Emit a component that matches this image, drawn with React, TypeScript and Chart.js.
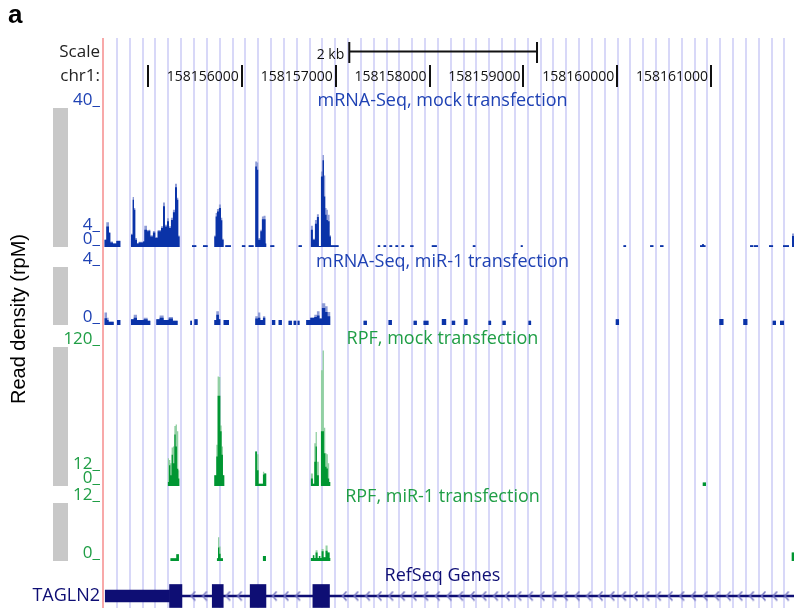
import { useEffect, useRef } from "react";
import { Chart, registerables } from "chart.js";

Chart.register(...registerables);

// ---- genomic window -------------------------------------------------------
const chromName = "chr1:";
const viewStart = 158154521;
const viewEnd = 158161883;
const rulerTicks = [158155000, 158156000, 158157000, 158158000, 158159000, 158160000, 158161000];
const rulerLabels = ["", "158156000", "158157000", "158158000", "158159000", "158160000", "158161000"];
const scaleBarRange = [158157145, 158159145];
const scaleBarText = "2 kb";
const guideStart = 158154670;
const guideStep = 136.75;

// ---- coverage tracks: [start, mean, max]; each value holds until the next start ----
const mrnaMock = [
  [158154535, 2.1, 2.1], [158154556, 5.9, 7.1], [158154585, 4.0, 4.3], [158154599, 1.3, 1.6],
  [158154627, 1.0, 1.0], [158154663, 1.7, 1.9], [158154706, 0, 0],
  [158154819, 3.5, 3.8], [158154837, 13.6, 14.4], [158154851, 10.7, 11.2], [158154865, 2.1, 2.6],
  [158154883, 1.0, 1.0], [158154901, 1.3, 1.5], [158154947, 1.6, 1.6], [158154961, 5.0, 6.1],
  [158154990, 4.5, 4.9], [158155007, 4.7, 5.0], [158155025, 3.0, 3.4], [158155053, 4.2, 4.6],
  [158155078, 2.6, 2.9], [158155103, 4.5, 4.9], [158155139, 5.5, 6.0], [158155160, 11.7, 12.8],
  [158155181, 5.9, 6.4], [158155203, 7.4, 8.3], [158155224, 5.5, 6.0], [158155245, 7.8, 8.4],
  [158155266, 10.0, 10.7], [158155288, 17.2, 18.2], [158155309, 13.6, 14.2], [158155323, 3.0, 3.3],
  [158155337, 0, 0],
  [158155469, 0.5, 0.5], [158155515, 0, 0], [158155586, 0.5, 0.5], [158155636, 0, 0],
  [158155707, 3.0, 3.3], [158155721, 8.8, 9.8], [158155735, 10.2, 10.9], [158155756, 11.2, 12.2],
  [158155778, 7.7, 8.4], [158155792, 2.1, 2.4], [158155806, 0, 0],
  [158155824, 0.5, 0.5], [158155884, 0, 0], [158156001, 0.5, 0.5], [158156037, 0, 0],
  [158156073, 0.5, 0.5], [158156126, 0, 0],
  [158156143, 23.2, 24.6], [158156161, 22.2, 24.3], [158156175, 2.1, 2.6], [158156197, 4.5, 5.0],
  [158156214, 8.0, 8.8], [158156232, 8.0, 9.0], [158156253, 1.0, 1.0], [158156260, 0, 0],
  [158156303, 0.5, 0.5], [158156346, 0, 0], [158156605, 0.5, 0.5], [158156640, 0, 0],
  [158156736, 5.0, 6.1], [158156757, 2.1, 2.4], [158156779, 6.7, 7.8], [158156800, 8.6, 9.4],
  [158156821, 0.3, 0.3], [158156843, 20.3, 21.7], [158156860, 25.0, 26.5], [158156875, 14.5, 20.6],
  [158156889, 9.3, 11.2], [158156903, 7.8, 10.7], [158156917, 7.4, 9.3], [158156935, 3.0, 3.4],
  [158156949, 0.5, 0.5], [158157031, 0, 0],
  [158157449, 0.5, 0.5], [158157474, 0, 0], [158157510, 0.5, 0.5], [158157538, 0, 0],
  [158157573, 0.5, 0.5], [158157602, 0, 0], [158157637, 0.5, 0.5], [158157666, 0, 0],
  [158157701, 0.5, 0.5], [158157730, 0, 0], [158157794, 0.5, 0.5], [158157829, 0, 0],
  [158158024, 0.5, 0.5], [158158078, 0, 0], [158158461, 0.5, 0.5], [158158489, 0, 0],
  [158158972, 0.5, 0.5], [158158993, 0, 0], [158160066, 0.5, 0.5], [158160094, 0, 0],
  [158160350, 0.5, 0.5], [158160385, 0, 0], [158160456, 0.5, 0.5], [158160492, 0, 0],
  [158160882, 0.5, 0.5], [158160903, 0.8, 0.8], [158160924, 0.5, 0.5], [158160940, 0, 0],
  [158161415, 0.5, 0.5], [158161450, 0, 0], [158161457, 0.5, 0.5], [158161500, 0, 0],
  [158161617, 0.5, 0.5], [158161660, 0, 0], [158161766, 0.5, 0.5], [158161830, 0, 0],
  [158161862, 3.2, 3.9], [158161883, 0, 0],
];

const mrnaMiR1 = [
  [158154535, 0.47, 0.87], [158154564, 0.35, 0.5], [158154581, 0.23, 0.23], [158154635, 0, 0],
  [158154670, 0.35, 0.35], [158154706, 0, 0],
  [158154819, 0.4, 0.4], [158154848, 0.5, 0.7], [158154883, 0.35, 0.35], [158154954, 0.4, 0.5],
  [158154997, 0.3, 0.3], [158155025, 0, 0],
  [158155089, 0.4, 0.4], [158155124, 0.5, 0.65], [158155167, 0.35, 0.35], [158155220, 0.45, 0.55],
  [158155266, 0.3, 0.3], [158155316, 0, 0],
  [158155451, 0.3, 0.3], [158155469, 0, 0], [158155494, 0.4, 0.4], [158155529, 0, 0],
  [158155707, 0.35, 0.35], [158155728, 0.7, 0.94], [158155756, 0.4, 0.4], [158155771, 0, 0],
  [158155806, 0.35, 0.35], [158155863, 0, 0],
  [158156143, 0.45, 0.6], [158156172, 0.5, 0.87], [158156197, 0.35, 0.35], [158156225, 0.5, 0.6],
  [158156250, 0, 0],
  [158156321, 0.35, 0.35], [158156356, 0, 0], [158156392, 0.35, 0.35], [158156427, 0, 0],
  [158156498, 0.3, 0.3], [158156534, 0, 0], [158156552, 0.3, 0.3], [158156580, 0, 0],
  [158156594, 0.3, 0.3], [158156615, 0, 0],
  [158156686, 0.35, 0.35], [158156729, 0.5, 0.5], [158156772, 0.55, 0.7], [158156800, 0.65, 0.94],
  [158156828, 0.45, 0.45], [158156853, 1.17, 1.5], [158156889, 0.9, 1.3], [158156914, 0.6, 0.9],
  [158156942, 0, 0],
  [158157297, 0.3, 0.3], [158157333, 0, 0], [158157563, 0.35, 0.35], [158157599, 0, 0],
  [158157830, 0.3, 0.3], [158157865, 0, 0], [158157936, 0.3, 0.3], [158157989, 0, 0],
  [158158131, 0.42, 0.42], [158158177, 0, 0], [158158237, 0.3, 0.3], [158158273, 0, 0],
  [158158369, 0.4, 0.4], [158158404, 0, 0], [158158628, 0.3, 0.3], [158158656, 0, 0],
  [158158777, 0.3, 0.3], [158158812, 0, 0], [158159054, 0.3, 0.3], [158159082, 0, 0],
  [158159984, 0.4, 0.4], [158160019, 0, 0], [158161088, 0.42, 0.42], [158161131, 0, 0],
  [158161343, 0.42, 0.42], [158161386, 0, 0], [158161656, 0.3, 0.3], [158161691, 0, 0],
  [158161734, 0.3, 0.3], [158161777, 0, 0],
];

const rpfMock = [
  [158155210, 3.5, 24], [158155224, 18, 22.5], [158155238, 9.3, 19.6], [158155252, 26.9, 33.3],
  [158155266, 19.6, 34], [158155281, 44.4, 51.7], [158155295, 34, 53], [158155309, 15, 47.3],
  [158155323, 6.4, 13.7], [158155334, 0, 0],
  [158155707, 9.3, 9.3], [158155728, 25.4, 35.6], [158155742, 78, 94.6], [158155756, 78, 94],
  [158155771, 47.3, 52.3], [158155785, 26.9, 34], [158155799, 9.3, 9.3], [158155813, 0, 0],
  [158156143, 29.8, 29.8], [158156161, 13.7, 27.4], [158156179, 2, 2], [158156225, 9.9, 12.3],
  [158156239, 10.8, 10.8], [158156260, 0, 0],
  [158156736, 6.4, 10.8], [158156757, 2, 2], [158156772, 21, 37], [158156786, 34, 46.7],
  [158156800, 9.3, 21], [158156821, 0, 0],
  [158156843, 47.3, 100], [158156860, 47.3, 117], [158156875, 28.3, 50.2], [158156889, 16.6, 28.3],
  [158156903, 15.2, 27.4], [158156917, 6.4, 19.6], [158156931, 3.5, 3.5], [158156942, 0, 0],
  [158160911, 3, 3], [158160946, 0, 0],
];

const rpfMiR1 = [
  [158155238, 0.56, 0.56], [158155302, 1.4, 1.4], [158155330, 0, 0],
  [158155735, 0.56, 0.56], [158155746, 2.8, 4.9], [158155760, 1.5, 3.0], [158155774, 0.56, 0.56],
  [158155799, 0, 0],
  [158156225, 1.05, 1.05], [158156257, 0, 0],
  [158156736, 0.6, 0.6], [158156757, 1.2, 1.2], [158156772, 0.6, 0.6], [158156786, 1.75, 2.25],
  [158156807, 0.6, 0.6], [158156821, 1.05, 1.05], [158156836, 0.6, 0.6], [158156850, 2.0, 2.5],
  [158156871, 0.8, 0.8], [158156892, 2.1, 3.2], [158156914, 1.75, 1.75], [158156935, 0.6, 0.6],
  [158156942, 0, 0],
  [158161859, 1.75, 1.75], [158161883, 0, 0],
];

// ---- RefSeq gene model -------------------------------------------------------
const geneName = "TAGLN2";
const geneUtr = [158154545, 158155230];
const geneExons = [
  [158155230, 158155362],
  [158155685, 158155802],
  [158156089, 158156257],
  [158156757, 158156934],
];
const geneIntron = [158155362, 158161883];
const chevronStep = 124;

const chevronPositions: number[] = [];
for (let p = geneIntron[0] + 120; p < geneIntron[1] - 40; p += chevronStep) {
  if (!geneExons.some(([a, b]) => p > a - 45 && p < b + 45)) chevronPositions.push(p);
}

// ---- colours ----------------------------------------------------------------
const BLUE_TEXT = "#1f42b4";
const BLUE_DARK = "#0a33a8";
const BLUE_LIGHT = "#8e9cd6";
const GREEN_TEXT = "#1f9e45";
const GREEN_DARK = "#009632";
const GREEN_LIGHT = "#92d0a3";
const NAVY = "#0e0e74";
const GUIDE = "#d8d8f8";
const EDGE = "#f8a9a9";

const tracks = [
  { id: "t1", title: "mRNA-Seq, mock transfection", titleShift: -7, bins: mrnaMock, max: 40, ticks: [0, 4, 40], text: BLUE_TEXT, dark: BLUE_DARK, light: BLUE_LIGHT },
  { id: "t2", title: "mRNA-Seq, miR-1 transfection", titleShift: -5, bins: mrnaMiR1, max: 4, ticks: [0, 4], text: BLUE_TEXT, dark: BLUE_DARK, light: BLUE_LIGHT },
  { id: "t3", title: "RPF, mock transfection", titleShift: -8, bins: rpfMock, max: 120, ticks: [0, 12, 120], text: GREEN_TEXT, dark: GREEN_DARK, light: GREEN_LIGHT },
  { id: "t4", title: "RPF, miR-1 transfection", titleShift: -6, bins: rpfMiR1, max: 12, ticks: [0, 12], text: GREEN_TEXT, dark: GREEN_DARK, light: GREEN_LIGHT },
];

// vertical layout of the browser image (stack weights in pixels)
const rowHeights = { head: 55, g0: 15, t1: 139, g1: 20, t2: 58, g2: 22, t3: 139, g3: 17, t4: 58, g4: 23, genes: 24 };
const rowOrder = ["head", "g0", "t1", "g1", "t2", "g2", "t3", "g3", "t4", "g4", "genes"];

const AXIS_W = 100;
const FONT = '"Open Sans", sans-serif';

const fixAxis = (s: any) => {
  s.width = AXIS_W;
  s.paddingTop = 0;
  s.paddingBottom = 0;
};

function stackPart(id: string) {
  return {
    position: "left",
    stack: "browser",
    stackWeight: (rowHeights as any)[id],
    weight: rowOrder.length - rowOrder.indexOf(id),
    offset: false,
    afterFit: fixAxis,
  };
}

function spacer(id: string) {
  return {
    type: "linear",
    ...stackPart(id),
    ticks: { display: false },
    grid: { display: false, drawTicks: false },
    border: { display: false },
  };
}

const browserDecor = {
  id: "browserDecor",
  afterDatasetsDraw(chart: any) {
    const { ctx, chartArea, scales } = chart;
    const xs = scales.x;
    const top = chartArea.top;
    const labelRight = chartArea.left - 3;
    const titleX = (chartArea.left + chartArea.right) / 2 - 6;
    ctx.save();

    // side bars of each data track
    ctx.fillStyle = "#c8c8c8";
    tracks.forEach((t) => {
      const s = scales[t.id];
      ctx.fillRect(53, s.top, 15, s.bottom - s.top);
    });

    // track titles
    ctx.textAlign = "center";
    ctx.textBaseline = "middle";
    ctx.font = `18px ${FONT}`;
    tracks.forEach((t) => {
      ctx.fillStyle = t.text;
      ctx.fillText(t.title, titleX, scales[t.id].top + t.titleShift);
    });
    ctx.fillStyle = NAVY;
    ctx.fillText("RefSeq Genes", titleX, scales.genes.top - 8);

    // ruler header
    ctx.fillStyle = "#222";
    ctx.textAlign = "right";
    ctx.font = `17px ${FONT}`;
    ctx.fillText("Scale", labelRight, top + 14);
    ctx.fillText(chromName, labelRight, top + 38);

    const b0 = xs.getPixelForValue(scaleBarRange[0]);
    const b1 = xs.getPixelForValue(scaleBarRange[1]);
    ctx.fillStyle = "#111";
    ctx.fillRect(b0, top + 12.5, b1 - b0, 2);
    ctx.fillRect(b0 - 1, top + 4, 2, 21);
    ctx.fillRect(b1 - 1, top + 4, 2, 21);
    ctx.font = `14px ${FONT}`;
    ctx.fillText(scaleBarText, b0 - 5, top + 17);

    rulerTicks.forEach((v, i) => {
      const px = xs.getPixelForValue(v);
      ctx.fillRect(Math.round(px) - 1, top + 27, 2, 22);
      if (rulerLabels[i]) ctx.fillText(rulerLabels[i], px - 3, top + 39);
    });

    // axis title and panel letter
    ctx.fillStyle = "#000";
    ctx.save();
    ctx.translate(25, 319);
    ctx.rotate(-Math.PI / 2);
    ctx.textAlign = "center";
    ctx.textBaseline = "alphabetic";
    ctx.font = '20px "Liberation Sans", Arial, sans-serif';
    ctx.fillText("Read density (rpM)", 0, 0);
    ctx.restore();

    ctx.textAlign = "left";
    ctx.textBaseline = "alphabetic";
    ctx.font = 'bold 26px "Liberation Sans", Arial, sans-serif';
    ctx.fillText("a", 8, 23);

    ctx.restore();
  },
};

export default function App() {
  const canvasRef = useRef<HTMLCanvasElement>(null);

  useEffect(() => {
    if (!canvasRef.current) return;
    Chart.defaults.font.family = FONT;

    // strand arrow used along the intron line
    const chevron = document.createElement("canvas");
    chevron.width = 7;
    chevron.height = 11;
    const cc = chevron.getContext("2d")!;
    cc.strokeStyle = "#7676c4";
    cc.lineWidth = 1.6;
    cc.beginPath();
    cc.moveTo(5.5, 1);
    cc.lineTo(1.5, 5.5);
    cc.lineTo(5.5, 10);
    cc.stroke();

    const datasets: any[] = [];
    tracks.forEach((t) => {
      const common = {
        type: "line",
        xAxisID: "x",
        yAxisID: t.id,
        stepped: "before",
        fill: "origin",
        borderWidth: 0,
        borderColor: "transparent",
        pointRadius: 0,
        tension: 0,
      };
      datasets.push({ ...common, label: t.title + " mean", data: t.bins.map((b) => ({ x: b[0], y: b[1] })), backgroundColor: t.dark, order: 0 });
      datasets.push({ ...common, label: t.title + " max", data: t.bins.map((b) => ({ x: b[0], y: b[2] })), backgroundColor: t.light, order: 1 });
    });

    const geneBar = { type: "bar", indexAxis: "y", xAxisID: "x", yAxisID: "genes", grouped: false, borderWidth: 0, backgroundColor: NAVY };
    datasets.push({ ...geneBar, label: "exons", data: geneExons.map((e) => ({ x: e, y: geneName })), barThickness: 23, order: 2 });
    datasets.push({ ...geneBar, label: "UTR", data: [{ x: geneUtr, y: geneName }], barThickness: 12, order: 2 });
    datasets.push({
      type: "line",
      label: "strand",
      xAxisID: "x",
      yAxisID: "genes",
      showLine: false,
      pointStyle: chevron,
      pointRadius: 5,
      data: chevronPositions.map((p) => ({ x: p, y: geneName })),
      order: 3,
    });
    datasets.push({ ...geneBar, label: "intron", data: [{ x: geneIntron, y: geneName }], barThickness: 2, order: 4 });

    const scales: any = {
      x: {
        type: "linear",
        position: "bottom",
        min: viewStart,
        max: viewEnd,
        afterBuildTicks: (s: any) => {
          const t = [{ value: viewStart }];
          for (let v = guideStart; v < viewEnd; v += guideStep) t.push({ value: v });
          s.ticks = t;
        },
        ticks: { display: false },
        grid: {
          drawTicks: false,
          lineWidth: 2,
          color: (c: any) => (c.tick && c.tick.value === viewStart ? EDGE : GUIDE),
        },
        border: { display: false },
        afterFit: (s: any) => {
          s.height = 0;
          s.paddingLeft = 0;
          s.paddingRight = 0;
        },
      },
      head: spacer("head"),
      g0: spacer("g0"),
      g1: spacer("g1"),
      g2: spacer("g2"),
      g3: spacer("g3"),
      g4: spacer("g4"),
      genes: {
        type: "category",
        labels: [geneName],
        ...stackPart("genes"),
        offset: true,
        grid: { display: false, drawTicks: false },
        border: { display: false },
        ticks: { color: NAVY, font: { size: 18 }, padding: 3 },
      },
    };
    tracks.forEach((t) => {
      scales[t.id] = {
        type: "linear",
        min: 0,
        max: t.max,
        ...stackPart(t.id),
        grid: { display: false, drawTicks: false },
        border: { display: false },
        afterBuildTicks: (s: any) => {
          s.ticks = t.ticks.map((v) => ({ value: v }));
        },
        ticks: {
          autoSkip: false,
          color: t.text,
          font: { size: 17 },
          padding: 3,
          labelOffset: -8,
          callback: (v: any) => `${v}_`,
        },
      };
    });

    const chart = new Chart(canvasRef.current, {
      type: "line",
      data: { datasets },
      options: {
        animation: false,
        responsive: false,
        maintainAspectRatio: false,
        events: [],
        layout: { padding: { left: 3, top: 38, right: 0, bottom: 0 }, autoPadding: false },
        plugins: { legend: { display: false }, tooltip: { enabled: false } },
        scales,
      },
      plugins: [browserDecor],
    } as any);

    return () => chart.destroy();
  }, []);

  return (
    <div style={{ position: "absolute", left: 0, top: 0, width: 794, height: 608, background: "#fff" }}>
      <canvas ref={canvasRef} width={794} height={608} style={{ display: "block" }} />
    </div>
  );
}
